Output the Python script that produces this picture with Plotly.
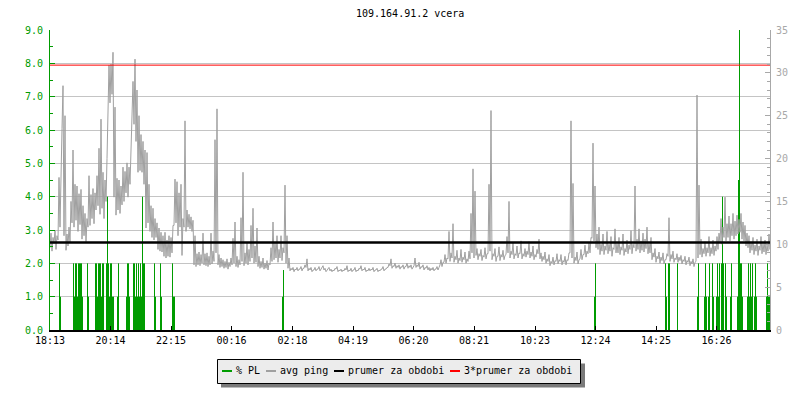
import plotly.graph_objects as go

# ---------------- data ----------------
# x axis: minutes since 18:13 (24 h window)
tick_labels = ["18:13", "20:14", "22:15", "00:16", "02:18", "04:19",
               "06:20", "08:21", "10:23", "12:24", "14:25", "16:26"]
tick_minutes = [0, 121, 242, 363, 485, 606, 727, 848, 970, 1091, 1212, 1333]

ping_step_min = 4
# avg ping [ms]: low / high value within each 4-minute step, starting 18:13
ping_lo = [
    9.6, 9.2, 10.1, 9.4, 10.5, 12.0, 23.5, 11.0, 9.3, 9.8,
    10.2, 12.5, 12.0, 12.8, 11.5, 12.3, 10.6, 11.0, 10.3, 12.0,
    12.2, 13.0, 12.4, 14.0, 14.5, 13.5, 14.2, 13.0, 15.0, 26.0,
    26.5, 27.5, 15.5, 13.4, 14.0, 13.6, 14.6, 15.0, 16.0, 15.5,
    17.0, 23.0, 24.0, 22.0, 18.4, 18.6, 18.4, 17.0, 11.9, 12.5,
    11.5, 10.8, 10.5, 10.8, 9.4, 9.2, 9.1, 8.6, 8.4, 8.6,
    8.5, 9.0, 12.2, 12.5, 11.0, 12.0, 8.7, 12.0, 11.5, 12.0,
    11.8, 11.5, 7.6, 7.4, 7.6, 7.5, 7.8, 7.6, 7.5, 7.4,
    7.6, 7.7, 8.0, 9.0, 7.6, 7.3, 7.4, 7.2, 7.3, 7.1,
    7.4, 7.6, 7.8, 7.4, 7.3, 7.6, 8.0, 7.5, 7.8, 7.6,
    8.0, 8.4, 7.8, 7.9, 7.4, 7.2, 7.3, 7.1, 7.2, 7.0,
    7.6, 8.0, 8.2, 8.4, 7.9, 8.4, 8.1, 9.0, 7.8, 7.2,
    6.9, 7.0, 6.8, 7.0, 6.9, 7.1, 6.9, 7.2, 7.3, 6.9,
    7.0, 6.8, 7.0, 6.9, 7.1, 6.9, 7.2, 7.0, 6.8, 7.1,
    6.9, 6.8, 6.9, 7.1, 6.8, 6.9, 6.8, 6.9, 7.0, 6.8,
    6.9, 6.8, 7.0, 6.8, 6.9, 7.1, 6.9, 7.0, 6.8, 6.9,
    6.9, 7.0, 6.8, 7.0, 6.8, 6.9, 7.1, 6.9, 7.1, 7.3,
    7.5, 7.2, 7.4, 7.2, 7.3, 7.1, 7.3, 7.1, 7.4, 7.2,
    7.3, 7.1, 7.5, 7.3, 7.4, 7.1, 7.3, 7.0, 7.2, 7.0,
    6.9, 7.0, 6.9, 7.1, 7.0, 7.6, 7.4, 7.9, 7.8, 8.3,
    8.0, 8.4, 7.9, 8.2, 7.8, 8.1, 7.9, 8.2, 7.8, 8.0,
    8.3, 9.0, 8.4, 8.7, 8.2, 8.6, 8.1, 8.5, 8.3, 8.9,
    9.2, 8.2, 8.6, 8.0, 8.6, 8.1, 8.5, 8.2, 8.8, 9.0,
    8.4, 8.8, 8.3, 8.7, 8.4, 8.9, 8.3, 8.6, 8.5, 8.8,
    8.4, 8.6, 8.2, 8.5, 8.9, 8.3, 8.0, 8.2, 7.8, 8.0,
    7.5, 7.8, 7.6, 8.0, 7.7, 8.0, 7.6, 7.9, 7.6, 8.1,
    9.0, 8.4, 7.8, 8.1, 7.7, 8.3, 8.2, 8.8, 8.5, 8.9,
    9.0, 10.7, 10.4, 9.6, 9.4, 8.8, 9.2, 8.8, 9.3, 8.9,
    9.2, 8.6, 9.4, 9.0, 9.0, 8.8, 9.3, 8.7, 9.1, 8.9,
    9.4, 8.9, 9.6, 9.2, 9.4, 9.0, 9.3, 9.1, 9.5, 8.9,
    9.0, 8.2, 8.5, 7.9, 8.3, 7.8, 8.1, 7.7, 8.2, 8.6,
    8.0, 8.3, 7.9, 8.2, 7.9, 8.1, 7.7, 8.0, 7.6, 7.9,
    7.5, 7.7, 7.4, 8.0, 8.4, 8.8, 8.5, 8.9, 8.6, 9.0,
    8.6, 8.9, 8.7, 9.2, 9.4, 10.2, 10.0, 10.8, 10.4, 10.8,
    10.4, 11.0, 10.6, 11.0, 11.2, 11.4, 10.6, 10.4, 9.8, 9.6,
    9.0, 9.3, 8.8, 9.2, 8.7, 9.3, 8.9, 9.1, 8.8, 9.2,
    9.4,
]
ping_hi = [
    11.3, 10.8, 11.6, 11.0, 17.8, 20.0, 28.5, 25.0, 11.2, 12.0,
    15.0, 21.0, 17.0, 16.8, 15.9, 16.4, 14.5, 13.6, 13.0, 18.0,
    15.8, 16.5, 16.0, 18.0, 21.2, 24.6, 18.4, 17.5, 20.0, 30.9,
    31.0, 32.4, 26.0, 17.7, 17.5, 16.8, 19.0, 18.5, 19.5, 19.0,
    20.5, 29.0, 31.6, 28.0, 25.0, 22.8, 22.0, 21.0, 20.7, 17.0,
    14.5, 14.2, 13.0, 12.5, 11.9, 11.4, 11.0, 11.4, 10.5, 11.0,
    10.8, 12.2, 17.6, 17.3, 16.0, 17.0, 13.0, 24.4, 14.0, 13.5,
    13.2, 12.8, 11.0, 8.9, 9.1, 8.8, 11.3, 8.9, 9.0, 8.6,
    11.3, 9.2, 22.2, 25.8, 8.8, 8.4, 8.2, 8.0, 8.3, 7.9,
    8.4, 10.7, 12.6, 8.6, 8.2, 13.1, 18.4, 9.0, 10.2, 9.4,
    12.2, 14.2, 9.8, 11.9, 8.6, 8.0, 8.4, 7.8, 8.1, 7.8,
    9.6, 12.6, 10.2, 11.0, 9.4, 11.0, 9.6, 16.9, 11.0, 8.4,
    7.2, 7.3, 7.1, 7.3, 7.1, 7.4, 7.2, 7.6, 8.3, 7.2,
    7.3, 7.0, 7.3, 7.1, 7.4, 7.1, 7.5, 7.2, 7.0, 7.3,
    7.1, 7.0, 7.2, 7.4, 7.0, 7.1, 7.0, 7.2, 7.5, 7.0,
    7.2, 7.0, 7.3, 7.0, 7.2, 7.5, 7.1, 7.3, 7.0, 7.2,
    7.1, 7.3, 7.0, 7.2, 7.0, 7.1, 7.4, 7.1, 7.3, 7.7,
    8.3, 7.5, 7.8, 7.5, 7.6, 7.4, 7.6, 7.4, 7.8, 7.5,
    7.6, 7.4, 8.4, 7.6, 7.9, 7.4, 7.6, 7.3, 7.5, 7.3,
    7.2, 7.3, 7.1, 7.4, 7.3, 8.2, 7.9, 8.8, 8.4, 11.5,
    9.0, 12.4, 8.6, 9.3, 8.4, 9.4, 8.5, 9.1, 8.3, 9.2,
    13.6, 18.8, 16.2, 9.5, 8.9, 9.4, 8.7, 9.6, 8.9, 17.0,
    25.6, 8.9, 9.5, 8.6, 9.7, 8.8, 9.3, 8.7, 10.9, 15.0,
    9.2, 10.2, 8.9, 9.8, 9.0, 10.4, 8.9, 9.5, 9.2, 10.3,
    9.1, 9.8, 8.8, 9.4, 10.6, 9.0, 8.6, 9.1, 8.3, 8.8,
    8.0, 8.5, 8.1, 8.9, 8.2, 8.8, 8.1, 8.6, 8.2, 9.0,
    24.4, 17.1, 8.5, 9.1, 8.2, 9.4, 8.8, 9.9, 9.2, 10.2,
    10.8, 21.8, 16.8, 11.2, 12.0, 10.0, 11.2, 9.8, 11.5, 10.0,
    10.9, 9.6, 11.8, 10.1, 10.8, 9.7, 11.2, 9.5, 10.5, 9.9,
    11.6, 10.0, 16.8, 10.6, 11.8, 10.4, 11.3, 10.6, 12.0, 10.1,
    10.8, 9.0, 9.5, 8.6, 9.1, 8.5, 9.0, 8.2, 8.9, 13.1,
    8.8, 9.2, 8.4, 8.9, 8.5, 8.7, 8.2, 8.6, 8.1, 8.5,
    8.0, 8.3, 7.9, 27.4, 16.9, 10.6, 9.5, 10.3, 9.6, 10.9,
    9.6, 10.5, 9.8, 10.9, 11.3, 13.0, 12.0, 15.5, 12.4, 13.3,
    12.4, 13.6, 12.7, 13.4, 12.9, 13.6, 12.6, 12.2, 11.3, 11.0,
    10.3, 10.8, 9.9, 10.6, 9.8, 10.9, 10.1, 10.5, 9.9, 11.2,
    10.4,
]

# packet loss [%]: periods at 1 % (from, to in minutes) ...
pl_block_from = [18, 46, 74, 90, 112, 134, 152, 166, 178, 208, 220, 244, 464,
                 1088, 1230, 1236, 1254, 1294, 1308, 1316, 1324, 1332, 1342,
                 1350, 1360, 1374, 1394, 1408, 1432]
pl_block_to = [22, 66, 78, 108, 128, 138, 160, 176, 190, 212, 224, 250, 468,
               1092, 1234, 1240, 1256, 1298, 1314, 1320, 1328, 1338, 1348,
               1354, 1364, 1386, 1406, 1414, 1440]
pl_block_pct = [1.0] * len(pl_block_from)
# ... and short peaks (minute, %)
pl_spike_min = [19, 47, 51, 53, 57, 59, 61, 63, 75, 91, 93, 97, 99, 101, 105, 107,
                113, 115, 117, 121, 123, 137, 155, 157, 167, 169, 173,
                177, 181, 185, 187, 189, 209, 221, 245, 467, 1091,
                1231, 1237, 1239, 1255, 1297, 1311, 1319, 1325, 1335, 1339,
                1343, 1345, 1347, 1351, 1363, 1377, 1379, 1381, 1383,
                1397, 1401, 1405, 1411, 1435]
pl_spike_pct = [2, 2, 2, 2, 2, 2, 2, 2, 2, 2, 2, 2, 2, 2, 2, 2,
                2, 4, 2, 2, 2, 2, 2, 2, 2, 2, 2,
                2, 2, 4, 2, 2, 2, 2, 2, 1.8, 2,
                2, 2, 2, 2, 2, 2, 2, 2, 2, 2,
                2, 4, 2, 2, 2, 4.5, 9, 2, 2,
                2, 2, 2, 2, 2]

prumer_ms = 10.2
trojnasobek_ms = 30.9

title_text = "109.164.91.2 vcera"
legend_names = ["% PL", "avg ping", "prumer za obdobi", "3*prumer za obdobi"]

# ---------------- style ----------------
GREEN = "#009c00"
GRAY = "#a0a0a0"
GRID = "#c4c4c4"
RAXIS = "#a8a8a8"
FONT = "DejaVu Sans Mono"
PAGE_OFF = 8                      # default body margin of the html page
W, H = 800 - PAGE_OFF, 400 - PAGE_OFF
L, R, T, B = 50 - PAGE_OFF, 30, 30 - PAGE_OFF, 70
PW, PH = 720, 300


def fx(px):          # page pixel -> paper x
    return (px - 50) / PW


def fy(py):          # page pixel -> paper y
    return (330 - py) / PH


# ping trace: low and high value of every step, drawn as one zig-zag line
ping_x, ping_y = [], []
for i, (lo, hi) in enumerate(zip(ping_lo, ping_hi)):
    t = i * ping_step_min
    ping_x += [t, t + ping_step_min / 2]
    ping_y += [lo, hi]

# packet-loss peaks as thin vertical strokes
spike_x, spike_y = [], []
for m, v in zip(pl_spike_min, pl_spike_pct):
    spike_x += [m, m, None]
    spike_y += [0, v, None]

fig = go.Figure()

fig.add_trace(go.Bar(
    x=[(a + b) / 2 for a, b in zip(pl_block_from, pl_block_to)],
    y=pl_block_pct,
    width=[b - a for a, b in zip(pl_block_from, pl_block_to)],
    marker=dict(color=GREEN, line=dict(width=0)),
    yaxis="y", showlegend=False, name=legend_names[0]))
fig.add_trace(go.Scatter(
    x=spike_x, y=spike_y, mode="lines",
    line=dict(color=GREEN, width=1), yaxis="y",
    showlegend=False, name=legend_names[0]))

fig.add_trace(go.Scatter(
    x=ping_x, y=ping_y, mode="lines",
    line=dict(color=GRAY, width=1), yaxis="y2",
    showlegend=False, name=legend_names[1]))
fig.add_trace(go.Scatter(
    x=[0, 1440], y=[prumer_ms, prumer_ms], mode="lines",
    line=dict(color="black", width=2.5), yaxis="y2",
    showlegend=False, name=legend_names[2]))
fig.add_trace(go.Scatter(
    x=[0, 1440], y=[trojnasobek_ms, trojnasobek_ms], mode="lines",
    line=dict(color="#ff0000", width=1), yaxis="y2",
    showlegend=False, name=legend_names[3]))

# ---------------- legend (box with shadow) ----------------
shapes = [
    dict(type="rect", xref="paper", yref="paper",
         x0=fx(221), x1=fx(585), y0=fy(387.5), y1=fy(363.5),
         fillcolor="#7a7a7a", line=dict(width=0), layer="above"),
    dict(type="rect", xref="paper", yref="paper",
         x0=fx(217.5), x1=fx(580.5), y0=fy(383.5), y1=fy(359.5),
         fillcolor="#ececec", line=dict(color="black", width=1), layer="above"),
]
leg_colors = [GREEN, "#a0a0a0", "black", "#ff0000"]
leg_sym_x = [222, 266, 334, 450]
annotations = []
for name, col, sx in zip(legend_names, leg_colors, leg_sym_x):
    shapes.append(dict(type="line", xref="paper", yref="paper",
                       x0=fx(sx), x1=fx(sx + 10), y0=fy(371), y1=fy(371),
                       line=dict(color=col, width=2), layer="above"))
    annotations.append(dict(text=name, xref="paper", yref="paper",
                            x=fx(sx + 14), y=fy(370.5), xanchor="left",
                            yanchor="middle", showarrow=False,
                            borderpad=0, borderwidth=0,
                            font=dict(family=FONT, size=10, color="black")))

annotations.append(dict(text=title_text, xref="paper", yref="paper",
                        x=0.5, y=fy(13.5), xanchor="center", yanchor="middle",
                        showarrow=False, borderpad=0, borderwidth=0,
                        font=dict(family=FONT, size=10, color="black")))

fig.update_layout(
    width=W, height=H,
    margin=dict(l=L, r=R, t=T, b=B, pad=0, autoexpand=False),
    paper_bgcolor="white", plot_bgcolor="white",
    font=dict(family=FONT, size=10, color="black"),
    barmode="overlay",
    showlegend=False,
    shapes=shapes,
    annotations=annotations,
    xaxis=dict(range=[0, 1440], tickvals=tick_minutes, ticktext=tick_labels,
               ticks="inside", ticklen=4, tickcolor="black", tickwidth=1,
               showgrid=False, zeroline=False, showline=True,
               linecolor="black", linewidth=2,
               tickfont=dict(family=FONT, size=10, color="black")),
    yaxis=dict(range=[0, 9], dtick=1, tick0=0, tickformat=".1f",
               ticks="inside", ticklen=5, tickcolor=GREEN, tickwidth=1,
               minor=dict(dtick=0.5, tick0=0, ticks="inside", ticklen=3,
                          tickcolor=GREEN, showgrid=False),
               showgrid=True, gridcolor=GRID, gridwidth=1,
               zeroline=False, showline=True, linecolor=GREEN, linewidth=1,
               ticklabelstandoff=4,
               tickfont=dict(family=FONT, size=10, color=GREEN)),
    yaxis2=dict(range=[0, 35], dtick=5, tick0=0, overlaying="y", side="right",
                ticks="inside", ticklen=5, tickcolor=RAXIS, tickwidth=1,
                minor=dict(dtick=1, tick0=0, ticks="inside", ticklen=3,
                           tickcolor=RAXIS, showgrid=False),
                showgrid=False, zeroline=False, showline=True,
                linecolor=RAXIS, linewidth=1, ticklabelstandoff=3,
                tickfont=dict(family=FONT, size=10, color=RAXIS)),
)

fig.write_html("out.html")
